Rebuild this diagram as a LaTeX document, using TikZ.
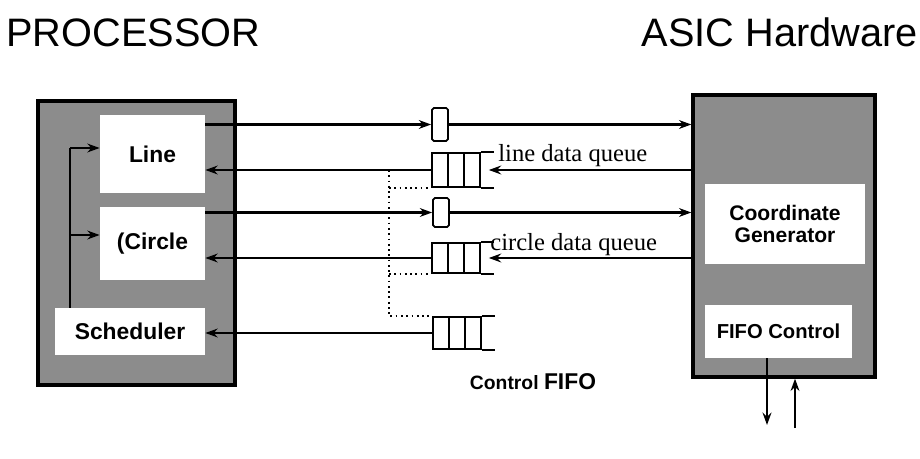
\documentclass[tikz,border=0pt]{standalone}
\usepackage{fontspec}
\setmainfont{Liberation Serif}
\setsansfont{Liberation Sans}
\usepackage{tikz}
\usetikzlibrary{arrows.meta, positioning, calc}
\tikzset{
  hwbox/.style={draw=black, line width=1.9pt, fill=black!45},
  unitbox/.style={fill=white, align=center, inner sep=0pt,
                  font=\sffamily\bfseries\fontsize{13}{14}\selectfont},
  regbox/.style={draw=black, line width=1pt, rounded corners=1pt, fill=white,
                 minimum width=0.32cm, inner sep=0pt},
  qbox/.style={draw=black, line width=1pt, minimum width=0.96cm, inner sep=0pt},
  link/.style={line width=1.4pt},
  linkto/.style={link, -{Stealth[length=7pt,width=5pt]}},
  dotline/.style={line width=1pt, dotted},
  qlabel/.style={font=\fontsize{14}{16}\selectfont, inner sep=0pt},
  title/.style={font=\sffamily\fontsize{22.6}{26}\selectfont, inner sep=0pt},
}

\begin{document}
\begin{tikzpicture}[x=0.02cm, y=-0.02cm]
\useasboundingbox (0,0) rectangle (920,459);

% titles
\node[title, anchor=base west] (tproc) at (6,47) {PROCESSOR};
\node[title, anchor=base east] (tasic) at (918,47) {ASIC Hardware};

% processor side
\node[hwbox, minimum width=3.94cm, minimum height=5.68cm] (proc) at (136.5,243) {};
\node[unitbox, minimum width=2.1cm, minimum height=1.56cm] (line) at (152.5,154) {Line};
\node[unitbox, minimum width=2.1cm, minimum height=1.46cm] (circ) at (152.5,243.5) {(Circle};
\node[unitbox, minimum width=3.0cm, minimum height=0.94cm] (sched) at (130,331.5) {Scheduler};

% ASIC side
\node[hwbox, minimum width=3.64cm, minimum height=5.64cm] (asic) at (784,236) {};
\node[unitbox, minimum width=3.2cm, minimum height=1.6cm,
      font=\sffamily\bfseries\fontsize{12}{13}\selectfont] (cgen) at (785,224) {Coordinate\\Generator};
\node[unitbox, minimum width=2.94cm, minimum height=1.06cm,
      font=\sffamily\bfseries\fontsize{11.5}{13}\selectfont] (fctl) at (778.5,331.5) {FIFO Control};

% registers and queues
\node[regbox, minimum height=0.66cm] (r1) at (440,124.5) {};
\node[regbox, minimum height=0.58cm] (r2) at (441,212.5) {};
\node[qbox, minimum height=0.68cm] (q1) at (456,170) {};
\node[qbox, minimum height=0.60cm] (q2) at (456,258) {};
\node[qbox, minimum height=0.64cm] (q3) at (457,333) {};
\foreach \q in {q1,q2,q3} {
  \draw[line width=1pt] ($(\q.north west)!1/3!(\q.north east)$) -- ($(\q.south west)!1/3!(\q.south east)$);
  \draw[line width=1pt] ($(\q.north west)!2/3!(\q.north east)$) -- ($(\q.south west)!2/3!(\q.south east)$);
  \draw[line width=1pt] (\q.north east) -- ++(13,0);
  \draw[line width=1pt] (\q.south east) -- ++(13,0);
}

\node[qlabel, anchor=base west] (lq) at (498,162) {line data queue};
\node[qlabel, anchor=base west] (cq) at (490,251) {circle data queue};
\node[font=\sffamily\bfseries\fontsize{11}{13}\selectfont, inner sep=0pt] (cf) at (533,382)
  {Control {\fontsize{13}{14}\selectfont FIFO}};

% scheduler bus
\coordinate (bt) at (70,148);
\coordinate (bm) at (70,235);
\draw[link] (sched.north -| bt) -- (bt);
\draw[linkto] (bt) -- (bt -| line.west);
\draw[linkto] (bm) -- (bm -| circ.west);

% data paths
\draw[linkto] (line.east |- r1) -- (r1.west);
\draw[linkto] (r1.east) -- (r1 -| asic.west);
\draw[linkto] (q1.west) -- (q1 -| line.east);
\draw[linkto, shorten >=4.5pt] (asic.west |- q1) -- (q1.east);
\draw[linkto] (circ.east |- r2) -- (r2.west);
\draw[linkto] (r2.east) -- (r2 -| asic.west);
\draw[linkto] (q2.west) -- (q2 -| circ.east);
\draw[linkto, shorten >=4.5pt] (asic.west |- q2) -- (q2.east);
\draw[linkto] (q3.west) -- (q3 -| sched.east);

% control lines (dotted)
\coordinate (dt) at (389,170);
\draw[dotline] (dt) -- (dt |- q3.north) -- (q3.north west);
\draw[dotline] (dt |- q1.south) -- (q1.south west);
\draw[dotline] (dt |- q2.south) -- (q2.south west);

% external lines
\coordinate (dn) at (767,425);
\coordinate (up) at (795,428);
\draw[linkto] (dn |- fctl.south) -- (dn);
\draw[linkto] (up) -- (up |- asic.south);
\end{tikzpicture}
\end{document}
